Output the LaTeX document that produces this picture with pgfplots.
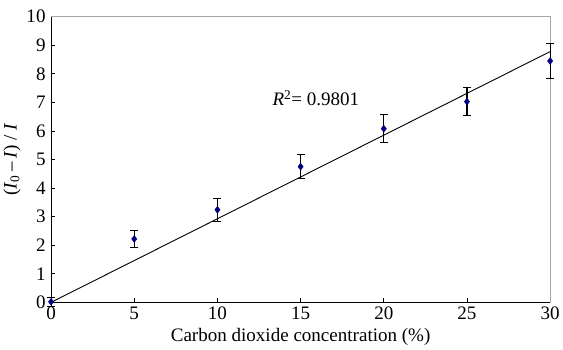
\documentclass[border=0pt]{standalone}
\usepackage{pgfplots}
\pgfplotsset{compat=1.18}
\usepackage{fontspec}
\setmainfont{Liberation Serif}
\definecolor{navy}{RGB}{0,0,128}
\begin{document}
\begin{tikzpicture}
\begin{axis}[
  scale only axis,
  width=498pt, height=285pt,
  xmin=0, xmax=30, ymin=0, ymax=10,
  xtick={0,5,...,30}, ytick={0,1,...,10},
  xticklabel={\pgfmathprintnumber[assume math mode=true]{\tick}},
  yticklabel={\pgfmathprintnumber[assume math mode=true]{\tick}},
  tick align=inside,
  major tick length=4pt,
  axis x line*=bottom, axis y line*=left,
  tick style={black, line width=0.8pt},
  axis line style={black, line width=0.8pt},
  ticklabel style={font=\fontsize{19}{21}\selectfont},
  xticklabel style={yshift=-1pt},
  yticklabel style={xshift=-2pt},
  label style={font=\fontsize{19}{21}\selectfont},
  xlabel={Carbon dioxide concentration (\%)},
  ylabel={(\textit{I}\textsubscript{0}\,--\,\textit{I}) / \textit{I}},
  xlabel style={yshift=-2pt},
  ylabel style={yshift=-1pt},
  clip=false,
]
\draw[gray!70, line width=0.8pt] (rel axis cs:0,1) -- (rel axis cs:1,1) -- (rel axis cs:1,0);
\path (rel axis cs:0,1) ++(0,13pt);
\addplot[black, line width=0.9pt] coordinates {(0,0) (30,8.78)};
\addplot[only marks, mark=diamond*, mark size=3.5pt, color=navy,
  error bars/.cd, y dir=both, y explicit,
  error bar style={black, line width=1.1pt},
  error mark options={black, line width=1.1pt, mark size=4pt, rotate=90}]
  coordinates {
  (0,0.02) +- (0,0.15)
  (5,2.22) +- (0,0.29)
  (10,3.24) +- (0,0.40)
  (15,4.75) +- (0,0.42)
  (20,6.08) +- (0,0.49)
  (25,7.03) +- (0,0.48)
  (30,8.45) +- (0,0.60)
  };
\node[anchor=west, font=\fontsize{19}{21}\selectfont] at (axis cs:13.1,7.15) {\textit{R}\textsuperscript{2}= 0.9801};
\end{axis}
\end{tikzpicture}
\end{document}
